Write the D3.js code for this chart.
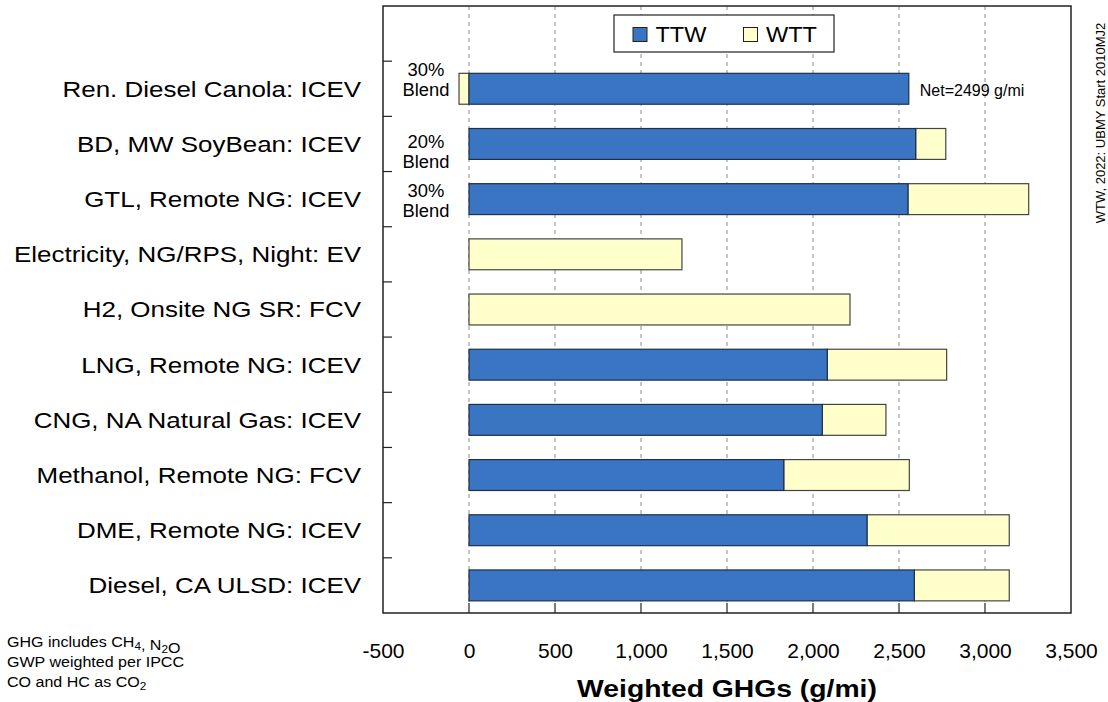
<!DOCTYPE html>
<html>
<head>
<meta charset="utf-8">
<script src="https://cdn.jsdelivr.net/npm/d3@7"></script>
<style>
  html, body { margin: 0; padding: 0; background: #fff; }
  svg text { font-family: "Liberation Sans", Arial, sans-serif; fill: #000; }
</style>
</head>
<body>
<div id="chart"></div>
<script>
// values (g/mi)
const categories = [
  "Ren. Diesel Canola: ICEV",
  "BD, MW SoyBean: ICEV",
  "GTL, Remote NG: ICEV",
  "Electricity, NG/RPS, Night: EV",
  "H2, Onsite NG SR: FCV",
  "LNG, Remote NG: ICEV",
  "CNG, NA Natural Gas: ICEV",
  "Methanol, Remote NG: FCV",
  "DME, Remote NG: ICEV",
  "Diesel, CA ULSD: ICEV",
];
const ttwValues = [2557, 2597, 2552, 0, 0, 2083, 2054, 1830, 2314, 2589];
const wttValues = [-58, 175, 702, 1238, 2215, 694, 370, 730, 827, 552];
const seriesNames = ["TTW", "WTT"];
const tickValues = [-500, 0, 500, 1000, 1500, 2000, 2500, 3000, 3500];
const gridValues = [0, 500, 1000, 1500, 2000, 2500, 3000];
const blendNotes = [
  { category: "Ren. Diesel Canola: ICEV", lines: ["30%", "Blend"] },
  { category: "BD, MW SoyBean: ICEV", lines: ["20%", "Blend"] },
  { category: "GTL, Remote NG: ICEV", lines: ["30%", "Blend"] },
];
const netNote = { category: "Ren. Diesel Canola: ICEV", text: "Net=2499 g/mi" };
const sourceNote = "WTW, 2022: UBMY Start 2010MJ2";
const axisTitle = "Weighted GHGs (g/mi)";

const COLORS = { TTW: "#3a75c4", WTT: "#ffffcc" };
const W = 1108, H = 702;
const plot = { left: 383, right: 1071, top: 6, bottom: 613 };

const svg = d3.select("#chart").append("svg").attr("width", W).attr("height", H);

const x = d3.scaleLinear().domain([-500, 3500]).range([plot.left, plot.right]);
// first band is left empty for the legend
const y = d3.scaleBand()
  .domain(["__legend"].concat(categories))
  .range([plot.top, plot.bottom])
  .paddingInner(0.44)
  .paddingOuter(0.22);

const rows = categories.map((c, i) => ({ category: c, ttw: ttwValues[i], wtt: wttValues[i] }));

/* ========== GRID ========== */
svg.append("g").selectAll("line")
  .data(gridValues)
  .enter()
  .append("line")
  .attr("x1", (d) => x(d))
  .attr("x2", (d) => x(d))
  .attr("y1", plot.top)
  .attr("y2", plot.bottom - 10)
  .attr("stroke", "#8c8c8c")
  .attr("stroke-width", 1)
  .attr("stroke-dasharray", "4,4");

/* ========== BARS ========== */
const barG = svg.append("g");

barG.selectAll("rect.wtt")
  .data(rows.filter((d) => d.wtt !== 0))
  .enter()
  .append("rect")
  .attr("class", "wtt")
  .attr("x", (d) => (d.wtt < 0 ? x(d.wtt) : x(d.ttw)))
  .attr("y", (d) => y(d.category))
  .attr("width", (d) => (d.wtt < 0 ? x(0) - x(d.wtt) : x(d.ttw + d.wtt) - x(d.ttw)))
  .attr("height", y.bandwidth())
  .attr("fill", COLORS.WTT)
  .attr("stroke", "#444")
  .attr("stroke-width", 1.2);

barG.selectAll("rect.ttw")
  .data(rows.filter((d) => d.ttw > 0))
  .enter()
  .append("rect")
  .attr("class", "ttw")
  .attr("x", x(0))
  .attr("y", (d) => y(d.category))
  .attr("width", (d) => x(d.ttw) - x(0))
  .attr("height", y.bandwidth())
  .attr("fill", COLORS.TTW)
  .attr("stroke", "#1f2f45")
  .attr("stroke-width", 1.2);

/* ========== FRAME AND TICKS ========== */
svg.append("rect")
  .attr("x", plot.left)
  .attr("y", plot.top)
  .attr("width", plot.right - plot.left)
  .attr("height", plot.bottom - plot.top)
  .attr("fill", "none")
  .attr("stroke", "#222")
  .attr("stroke-width", 1.5);

// category separators, pointing into the plot
const gap = (y.step() - y.bandwidth()) / 2;
svg.append("g").selectAll("line")
  .data(categories)
  .enter()
  .append("line")
  .attr("x1", plot.left)
  .attr("x2", plot.left + 9)
  .attr("y1", (d) => y(d) - gap)
  .attr("y2", (d) => y(d) - gap)
  .attr("stroke", "#222")
  .attr("stroke-width", 1.2);

svg.append("g").selectAll("line")
  .data(gridValues)
  .enter()
  .append("line")
  .attr("x1", (d) => x(d))
  .attr("x2", (d) => x(d))
  .attr("y1", plot.bottom - 10)
  .attr("y2", plot.bottom)
  .attr("stroke", "#222")
  .attr("stroke-width", 1.2);

// category labels (the source is drawn a bit wide, hence the scaleX)
svg.append("g").selectAll("text")
  .data(categories)
  .enter()
  .append("text")
  .attr("transform", (d) => `translate(${plot.left - 22},${y(d) + y.bandwidth() / 2}) scale(1.18,1)`)
  .attr("text-anchor", "end")
  .attr("dy", "0.36em")
  .style("font-size", "22px")
  .text((d) => d);

/* ========== X AXIS ========== */
const fmt = d3.format(",");
const xAxis = svg.append("g")
  .attr("transform", `translate(0,${plot.bottom})`)
  .call(
    d3.axisBottom(x)
      .tickValues(tickValues)
      .tickSize(0)
      .tickPadding(30)
      .tickFormat((d) => fmt(d).replace("\u2212", "-"))
  );
xAxis.select(".domain").remove();
xAxis.selectAll("text")
  .style("font-family", '"Liberation Sans", Arial, sans-serif')
  .style("font-size", "21px")
  .attr("fill", "#000");

svg.append("text")
  .attr("transform", `translate(${(plot.left + plot.right) / 2},697) scale(1.18,1)`)
  .attr("text-anchor", "middle")
  .style("font-size", "24px")
  .style("font-weight", "bold")
  .text(axisTitle);

/* ========== LEGEND ========== */
const legend = svg.append("g");
legend.append("rect")
  .attr("x", 614)
  .attr("y", 15)
  .attr("width", 220)
  .attr("height", 37)
  .attr("fill", "#fff")
  .attr("stroke", "#222")
  .attr("stroke-width", 1.2);

const legendX = [633, 743.5];
seriesNames.forEach((name, i) => {
  legend.append("rect")
    .attr("x", legendX[i])
    .attr("y", 27.5)
    .attr("width", 14)
    .attr("height", 14)
    .attr("fill", COLORS[name])
    .attr("stroke", "#222")
    .attr("stroke-width", 1);
  legend.append("text")
    .attr("transform", `translate(${legendX[i] + 22.5},41.7) scale(1.07,1)`)
    .style("font-size", "22px")
    .text(name);
});

/* ========== NOTES ========== */
const blendDy = [-12.8, 4.3, -2.5];
blendNotes.forEach((n, i) => {
  const cy = y(n.category) + y.bandwidth() / 2 + blendDy[i];
  n.lines.forEach((line, j) => {
    svg.append("text")
      .attr("transform", `translate(${x(-250)},${cy + j * 20.2}) scale(1.05,1)`)
      .attr("text-anchor", "middle")
      .style("font-size", "17.5px")
      .text(line);
  });
});

const netRow = rows.find((r) => r.category === netNote.category);
svg.append("text")
  .attr("x", x(netRow.ttw) + 11)
  .attr("y", y(netNote.category) + y.bandwidth() / 2 + 7)
  .style("font-size", "16px")
  .text(netNote.text);

svg.append("text")
  .attr("transform", "translate(1105,123) rotate(-90)")
  .attr("text-anchor", "middle")
  .style("font-size", "13px")
  .text(sourceNote);

// GHG footnote with subscripts
const foot = svg.append("g").attr("transform", "translate(7,0)");
const footLines = [
  [["GHG includes CH", false], ["4", true], [", N", false], ["2", true], ["O", false]],
  [["GWP weighted per IPCC", false]],
  [["CO and HC as CO", false], ["2", true]],
];
const footBase = [646.7, 666.9, 687.3];
footLines.forEach((parts, i) => {
  const t = foot.append("text")
    .attr("transform", `translate(0,${footBase[i]}) scale(1.07,1)`)
    .style("font-size", "15px");
  parts.forEach(([s, sub]) => {
    t.append("tspan")
      .attr("dy", sub ? 3 : 0)
      .style("font-size", sub ? "11px" : "15px")
      .text(s);
    if (sub) t.append("tspan").attr("dy", -3).text("");
  });
});
</script>
</body>
</html>
